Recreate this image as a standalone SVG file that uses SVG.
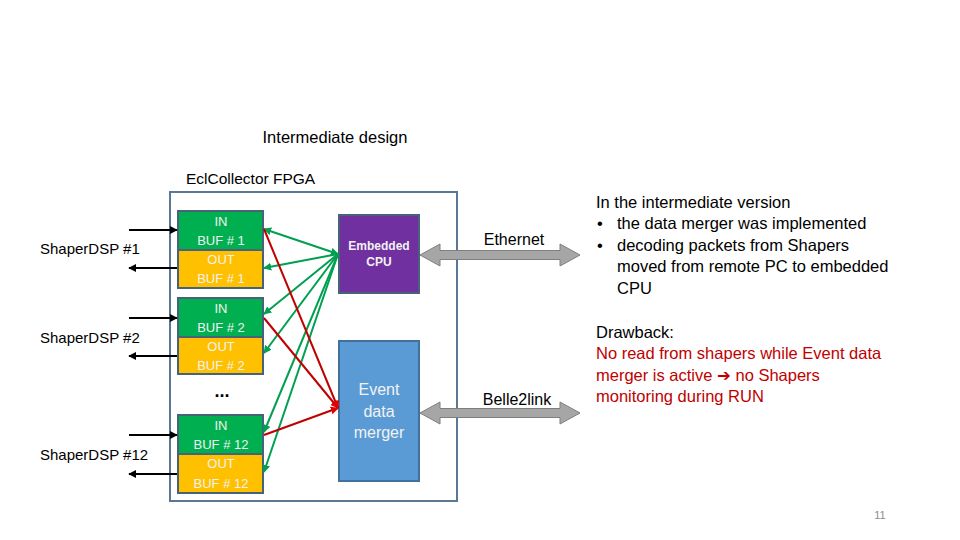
<svg xmlns="http://www.w3.org/2000/svg" width="960" height="540" viewBox="0 0 960 540">
  <defs>
    <style>
      text { font-family: "Liberation Sans", Arial, sans-serif; }
      .lbl { font-size: 15px; fill: #000; }
      .buf { font-size: 13px; fill: #f2f2f2; text-anchor: middle; }
      .inb { fill: #00b050; stroke: #47637a; stroke-width: 2; }
      .outb { fill: #ffc000; stroke: #47637a; stroke-width: 2; }
      .g { stroke: #00a050; stroke-width: 2; fill: none; }
      .r { stroke: #c00000; stroke-width: 2; fill: none; }
      .k { stroke: #000; stroke-width: 2; fill: none; }
      .big { fill: #a6a6a6; stroke: #7f7f7f; stroke-width: 1; }
      .para { font-size: 16.5px; fill: #000; }
      .red { font-size: 16.5px; fill: #c00000; }
    </style>
    <marker id="ag" viewBox="0 0 10 10" refX="9" refY="5" markerWidth="4" markerHeight="4" orient="auto-start-reverse">
      <path d="M0,0 L10,5 L0,10 z" fill="#00a050"/>
    </marker>
    <marker id="ar" viewBox="0 0 10 10" refX="9" refY="5" markerWidth="4" markerHeight="4" orient="auto-start-reverse">
      <path d="M0,0 L10,5 L0,10 z" fill="#e00000"/>
    </marker>
    <marker id="ak" viewBox="0 0 10 10" refX="9" refY="5" markerWidth="4" markerHeight="4" orient="auto-start-reverse">
      <path d="M0,0 L10,5 L0,10 z" fill="#000"/>
    </marker>
  </defs>

  <rect width="960" height="540" fill="#fff"/>

  <text x="335" y="143" text-anchor="middle" style="font-size:16.5px">Intermediate design</text>
  <text x="186" y="184" style="font-size:15.5px">EclCollector FPGA</text>

  <g id="fpga">
    <rect x="170" y="192" width="287" height="309" fill="none" stroke="#5a7896" stroke-width="2"/>
  </g>

  <g id="shaper1"><text class="lbl" x="40" y="254">ShaperDSP #1</text></g>
  <g id="shaper2"><text class="lbl" x="40" y="343">ShaperDSP #2</text></g>
  <g id="shaper12"><text class="lbl" x="40" y="460">ShaperDSP #12</text></g>

  <g id="buf1">
    <rect class="inb" x="178" y="211" width="85" height="39"/>
    <rect class="outb" x="178" y="250" width="85" height="38"/>
    <text class="buf" x="221" y="226">IN</text>
    <text class="buf" x="221" y="245">BUF # 1</text>
    <text class="buf" x="221" y="264">OUT</text>
    <text class="buf" x="221" y="283">BUF # 1</text>
  </g>
  <g id="buf2">
    <rect class="inb" x="178" y="298" width="85" height="39"/>
    <rect class="outb" x="178" y="337" width="85" height="37"/>
    <text class="buf" x="221" y="313">IN</text>
    <text class="buf" x="221" y="332">BUF # 2</text>
    <text class="buf" x="221" y="351">OUT</text>
    <text class="buf" x="221" y="370">BUF # 2</text>
  </g>
  <g id="dots"><text x="222" y="397" text-anchor="middle" style="font-size:18px;font-weight:bold">...</text></g>
  <g id="buf12">
    <rect class="inb" x="178" y="415" width="85" height="39"/>
    <rect class="outb" x="178" y="454" width="85" height="39"/>
    <text class="buf" x="221" y="430">IN</text>
    <text class="buf" x="221" y="449">BUF # 12</text>
    <text class="buf" x="221" y="468">OUT</text>
    <text class="buf" x="221" y="488">BUF # 12</text>
  </g>

  <g id="cpu">
    <rect x="339" y="215" width="80" height="78" fill="#7030a0" stroke="#47637a" stroke-width="2"/>
    <text x="379" y="250" text-anchor="middle" style="font-size:12px;font-weight:bold;fill:#f2f2f2">Embedded</text>
    <text x="379" y="266" text-anchor="middle" style="font-size:12px;font-weight:bold;fill:#f2f2f2">CPU</text>
  </g>
  <g id="merger">
    <rect x="339" y="341" width="80" height="140" fill="#5b9bd5" stroke="#41719c" stroke-width="2"/>
    <text x="379" y="395" text-anchor="middle" style="font-size:16px;fill:#f2f2f2">Event</text>
    <text x="379" y="417" text-anchor="middle" style="font-size:16px;fill:#f2f2f2">data</text>
    <text x="379" y="438" text-anchor="middle" style="font-size:16px;fill:#f2f2f2">merger</text>
  </g>

  <g id="connectors">
    <line class="k" x1="129" y1="230" x2="177" y2="230" marker-end="url(#ak)"/>
    <line class="k" x1="177" y1="268" x2="129" y2="268" marker-end="url(#ak)"/>
    <line class="k" x1="129" y1="318" x2="177" y2="318" marker-end="url(#ak)"/>
    <line class="k" x1="177" y1="356" x2="129" y2="356" marker-end="url(#ak)"/>
    <line class="k" x1="129" y1="435" x2="177" y2="435" marker-end="url(#ak)"/>
    <line class="k" x1="177" y1="474" x2="129" y2="474" marker-end="url(#ak)"/>

    <line class="g" x1="264" y1="229" x2="338" y2="254" marker-start="url(#ag)" marker-end="url(#ag)"/>
    <line class="g" x1="338" y1="254" x2="264" y2="268" marker-end="url(#ag)"/>
    <line class="g" x1="338" y1="254" x2="264" y2="314" marker-end="url(#ag)"/>
    <line class="g" x1="338" y1="254" x2="264" y2="353" marker-end="url(#ag)"/>
    <line class="g" x1="338" y1="254" x2="264" y2="432" marker-end="url(#ag)"/>
    <line class="g" x1="338" y1="254" x2="264" y2="472" marker-end="url(#ag)"/>

    <line class="r" x1="264" y1="229" x2="338" y2="408" marker-end="url(#ar)"/>
    <line class="r" x1="264" y1="318" x2="338" y2="408" marker-end="url(#ar)"/>
    <line class="r" x1="264" y1="435" x2="338" y2="408" marker-end="url(#ar)"/>

    <polygon class="big" points="420,255 440,244 440,250.5 560,250.5 560,244 580,255 560,266 560,259.5 440,259.5 440,266"/>
    <polygon class="big" points="420,413 440,402 440,408.5 560,408.5 560,402 580,413 560,424 560,417.5 440,417.5 440,424"/>
  </g>

  <g id="ethernet"><text x="514" y="245" text-anchor="middle" style="font-size:16px">Ethernet</text></g>
  <g id="belle2link"><text x="517" y="405" text-anchor="middle" style="font-size:16px">Belle2link</text></g>

  <g id="notes">
    <text class="para" x="596" y="208">In the intermediate version</text>
    <text class="para" x="597" y="229">•</text>
    <text class="para" x="617" y="229">the data merger was implemented</text>
    <text class="para" x="597" y="251">•</text>
    <text class="para" x="617" y="251">decoding packets from Shapers</text>
    <text class="para" x="617" y="272">moved from remote PC to embedded</text>
    <text class="para" x="617" y="294">CPU</text>
    <text class="para" x="596" y="338">Drawback:</text>
    <text class="red" x="596" y="359">No read from shapers while Event data</text>
    <text class="red" x="596" y="381">merger is active <tspan style="font-family:'DejaVu Sans',sans-serif;font-weight:bold">➔</tspan> no Shapers</text>
    <text class="red" x="596" y="402">monitoring during RUN</text>
  </g>

  <text x="880" y="519" text-anchor="middle" style="font-size:11px;fill:#8c8c8c">11</text>
</svg>
